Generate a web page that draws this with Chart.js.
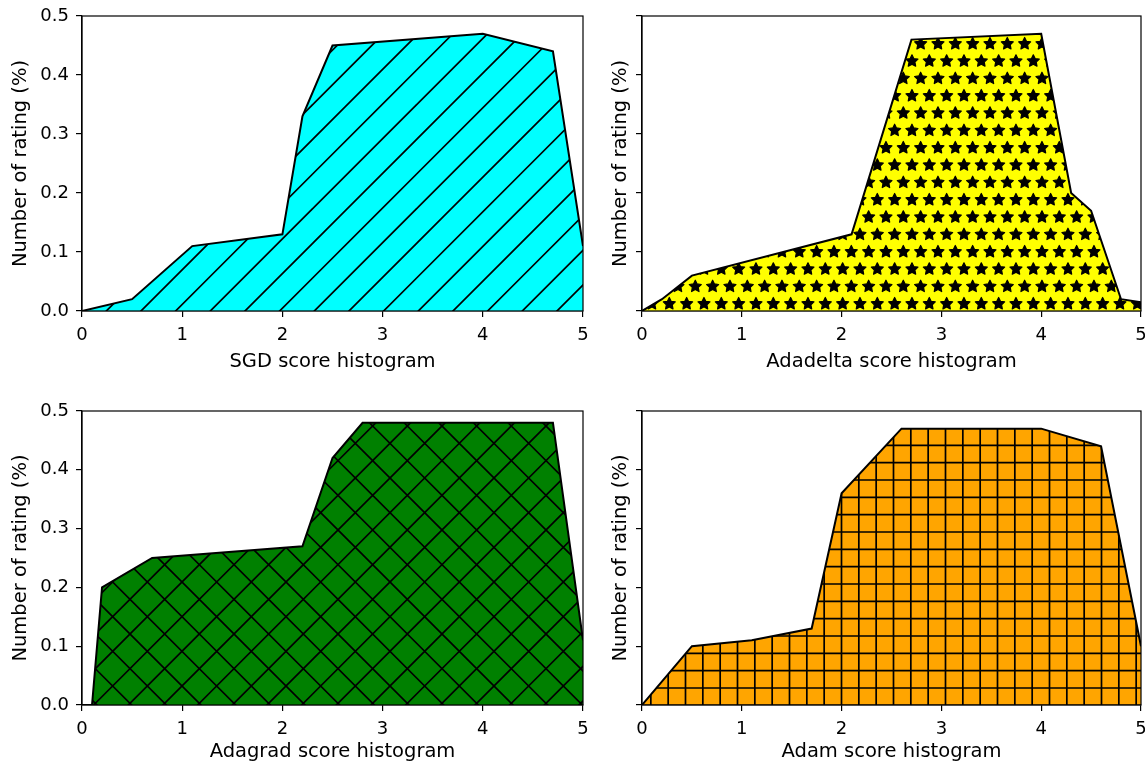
<!DOCTYPE html>
<html>
<head>
<meta charset="utf-8">
<title>Score histograms</title>
<script src="https://cdn.jsdelivr.net/npm/chart.js@4.4.0/dist/chart.umd.min.js"></script>
<style>
    body { margin: 0; background: #fff; }
    canvas { position: absolute; }
</style>
</head>
<body>
<canvas id="graficoSGD" width="600" height="394" style="left:0;top:0"></canvas>
<canvas id="graficoAdadelta" width="545" height="394" style="left:600px;top:0"></canvas>
<canvas id="graficoAdagrad" width="600" height="370" style="left:0;top:394px"></canvas>
<canvas id="graficoAdam" width="545" height="370" style="left:600px;top:394px"></canvas>
<script>
// Ticks de los ejes
const ticksX = [0, 1, 2, 3, 4, 5];
const ticksY = [0, 0.1, 0.2, 0.3, 0.4, 0.5];

// SGD
const sgdX = [0, 0.5, 1.1, 2.0, 2.2, 2.5, 4.0, 4.7, 5.0];
const sgdY = [0, 0.02, 0.11, 0.13, 0.33, 0.45, 0.47, 0.44, 0.11];

// Adadelta
const adadeltaX = [0, 0.2, 0.5, 2.1, 2.7, 4.0, 4.3, 4.5, 4.8, 5.0];
const adadeltaY = [0, 0.02, 0.06, 0.13, 0.46, 0.47, 0.2, 0.17, 0.02, 0.015];

// Adagrad
const adagradX = [0, 0.1, 0.2, 0.7, 2.2, 2.5, 2.8, 4.7, 5.0];
const adagradY = [0, 0, 0.2, 0.25, 0.27, 0.42, 0.48, 0.48, 0.11];

// Adam
const adamX = [0, 0.5, 1.1, 1.7, 2.0, 2.6, 4.0, 4.6, 5.0];
const adamY = [0, 0.1, 0.11, 0.13, 0.36, 0.47, 0.47, 0.44, 0.1];

Chart.defaults.font.family = 'DejaVu Sans';
Chart.defaults.font.size = 18;
Chart.defaults.color = '#000';

function mod(a, n) {
    return ((a % n) + n) % n;
}

function estrella(g, cx, cy, R, r) {
    g.beginPath();
    for (let k = 0; k < 10; k++) {
        const ang = -Math.PI / 2 + k * Math.PI / 5;
        const rad = k % 2 === 0 ? R : r;
        const px = cx + rad * Math.cos(ang);
        const py = cy + rad * Math.sin(ang);
        if (k === 0) g.moveTo(px, py); else g.lineTo(px, py);
    }
    g.closePath();
    g.fill();
    g.stroke();
}

// Patron de relleno (color + rayado), alineado con la pagina
function crearPatron(ctx, tipo, color, ox, oy) {
    const P = 104, s = P / 3, t = P / 6;
    const tile = document.createElement('canvas');
    tile.width = P;
    tile.height = P;
    const g = tile.getContext('2d');
    g.fillStyle = color;
    g.fillRect(0, 0, P, P);
    g.strokeStyle = '#000';
    g.fillStyle = '#000';
    g.lineWidth = 1.7;
    g.beginPath();
    if (tipo === '/' || tipo === 'x') {
        const a = mod(1.3 - ox - oy, s);
        for (let k = -3; k <= 9; k++) {
            const c = a + k * s;
            g.moveTo(c + P, -P);
            g.lineTo(c - 2 * P, 2 * P);
        }
    }
    if (tipo === 'x') {
        const b = mod(16 - ox + oy, s);
        for (let k = -6; k <= 6; k++) {
            const c = b + k * s;
            g.moveTo(c - P, -P);
            g.lineTo(c + 2 * P, 2 * P);
        }
    }
    if (tipo === '+') {
        const hy = mod(12 - oy, t), vx = mod(9.5 - ox, t);
        for (let k = -1; k <= 7; k++) {
            g.moveTo(-1, hy + k * t);
            g.lineTo(P + 1, hy + k * t);
            g.moveTo(vx + k * t, -1);
            g.lineTo(vx + k * t, P + 1);
        }
    }
    g.stroke();
    if (tipo === '*') {
        g.lineWidth = 1.2;
        g.lineJoin = 'round';
        for (let j = -40; j <= 40; j++) {
            const cy = 303.3 - oy + j * t;
            if (cy < -t || cy > P + t) continue;
            const dx = (Math.abs(j) % 2) ? t / 2 : 0;
            for (let i = -60; i <= 60; i++) {
                const cx = 669.3 - ox + dx + i * t;
                if (cx < -t || cx > P + t) continue;
                estrella(g, cx, cy + 0.5, 6.3, 3.1);
            }
        }
    }
    return ctx.createPattern(tile, 'repeat');
}

// Marco completo alrededor del area del grafico
const marco = {
    id: 'marco',
    afterDatasetsDraw(chart) {
        const { ctx, chartArea: a } = chart;
        ctx.save();
        ctx.strokeStyle = '#000';
        ctx.lineWidth = 1.2;
        ctx.strokeRect(a.left, a.top, a.right - a.left, a.bottom - a.top);
        ctx.restore();
    }
};

function generarGrafico(cfg) {
    const ctx = document.getElementById(cfg.id).getContext('2d');
    const patron = crearPatron(ctx, cfg.hatch, cfg.color, cfg.ox, cfg.oy);
    const puntos = cfg.xs.map((x, i) => ({ x: x, y: cfg.ys[i] }));

    new Chart(ctx, {
        type: 'line',
        data: {
            datasets: [{
                data: puntos,
                fill: 'origin',
                backgroundColor: patron,
                borderColor: '#000',
                borderWidth: 2,
                pointRadius: 0,
                tension: 0
            }]
        },
        options: {
            responsive: false,
            animation: false,
            devicePixelRatio: 1,
            events: [],
            layout: { padding: { left: 0, top: cfg.top, right: cfg.right, bottom: 0 } },
            plugins: { legend: { display: false }, tooltip: { enabled: false } },
            scales: {
                x: {
                    type: 'linear',
                    min: 0,
                    max: 5,
                    afterBuildTicks: s => { s.ticks = ticksX.map(v => ({ value: v })); },
                    afterFit: s => { s.height = cfg.xAlto; s.paddingLeft = 0; s.paddingRight = 0; },
                    grid: { drawOnChartArea: false, drawTicks: true, tickLength: 6, color: '#000', lineWidth: 1.2 },
                    border: { display: true, color: '#000', width: 1.2 },
                    ticks: { color: '#000', padding: 8, maxRotation: 0, autoSkip: false, callback: v => String(v) },
                    title: { display: true, text: cfg.titulo, color: '#000', font: { size: 19.5 }, padding: { top: 0, bottom: cfg.tituloPad } }
                },
                y: {
                    type: 'linear',
                    min: 0,
                    max: 0.5,
                    afterBuildTicks: s => { s.ticks = ticksY.map(v => ({ value: v })); },
                    afterFit: s => { s.width = cfg.yAncho; s.paddingTop = 0; s.paddingBottom = 0; },
                    grid: { drawOnChartArea: false, drawTicks: true, tickLength: 6, color: '#000', lineWidth: 1.2 },
                    border: { display: true, color: '#000', width: 1.2 },
                    ticks: { color: cfg.etiquetasY ? '#000' : 'rgba(0,0,0,0)', padding: 7, autoSkip: false, callback: v => v.toFixed(1) },
                    title: { display: true, text: 'Number of rating (%)', color: '#000', font: { size: 19.5 }, padding: { top: 9, bottom: 0 } }
                }
            }
        },
        plugins: [marco]
    });
}

window.onload = () => {
    generarGrafico({ id: 'graficoSGD', xs: sgdX, ys: sgdY, titulo: 'SGD score histogram', color: '#00ffff', hatch: '/',
        ox: 0, oy: 0, top: 16, right: 17, yAncho: 82, xAlto: 83, tituloPad: 20, etiquetasY: true });
    generarGrafico({ id: 'graficoAdadelta', xs: adadeltaX, ys: adadeltaY, titulo: 'Adadelta score histogram', color: '#ffff00', hatch: '*',
        ox: 600, oy: 0, top: 16, right: 4, yAncho: 42, xAlto: 83, tituloPad: 20, etiquetasY: false });
    generarGrafico({ id: 'graficoAdagrad', xs: adagradX, ys: adagradY, titulo: 'Adagrad score histogram', color: '#008000', hatch: 'x',
        ox: 0, oy: 394, top: 17, right: 17, yAncho: 82, xAlto: 59, tituloPad: 0, etiquetasY: true });
    generarGrafico({ id: 'graficoAdam', xs: adamX, ys: adamY, titulo: 'Adam score histogram', color: '#ffa500', hatch: '+',
        ox: 600, oy: 394, top: 17, right: 4, yAncho: 42, xAlto: 59, tituloPad: 0, etiquetasY: false });
};
</script>
</body>
</html>
